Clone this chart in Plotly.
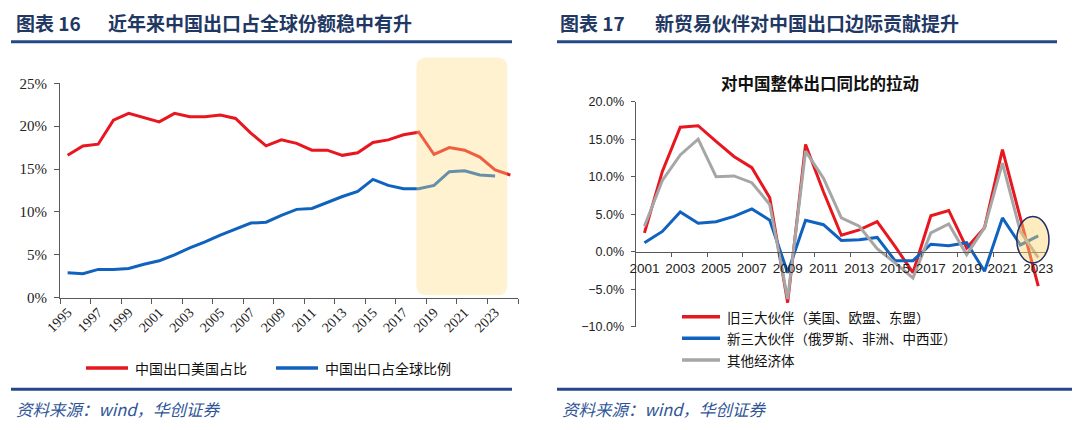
import plotly.graph_objects as go

# ---------------- data ----------------
years_left = list(range(1995, 2025))
us_share = [16.6, 17.7, 17.9, 20.7, 21.5, 21.0, 20.5, 21.5, 21.1, 21.1,
            21.3, 20.9, 19.2, 17.7, 18.4, 18.0, 17.2, 17.2, 16.6, 16.9,
            18.1, 18.4, 19.0, 19.3, 16.7, 17.5, 17.2, 16.4, 14.9, 14.3]
years_world = list(range(1995, 2024))
world_share = [2.9, 2.8, 3.3, 3.3, 3.4, 3.9, 4.3, 5.0, 5.8, 6.5,
               7.3, 8.0, 8.7, 8.8, 9.6, 10.3, 10.4, 11.1, 11.8, 12.4,
               13.8, 13.1, 12.7, 12.7, 13.1, 14.7, 14.8, 14.3, 14.2]
left_ticks = list(range(1995, 2024, 2))

years_right = list(range(2001, 2024))
old_partners = [2.5, 10.7, 16.6, 16.8, 14.7, 12.7, 11.2, 7.2, -6.8, 14.3,
                8.0, 2.2, 2.9, 4.0, 0.7, -2.8, 4.8, 5.5, 0.5, 3.2,
                13.6, 4.4, -4.6]
new_partners = [1.2, 2.7, 5.3, 3.8, 4.0, 4.7, 5.7, 4.2, -2.8, 4.2,
                3.6, 1.5, 1.6, 1.9, -1.2, -1.2, 1.0, 0.8, 1.2, -2.6,
                4.5, 0.9, 2.1]
others = [3.4, 9.5, 12.9, 15.0, 10.0, 10.1, 9.2, 6.3, -6.3, 13.4,
          9.8, 4.5, 3.4, 0.4, -1.5, -3.5, 2.5, 3.7, -0.4, 3.2,
          11.8, 2.7, -0.8]
right_ticks = list(range(2001, 2024, 2))

left_names = ["中国出口美国占比", "中国出口占全球比例"]
right_names = ["旧三大伙伴（美国、欧盟、东盟）", "新三大伙伴（俄罗斯、非洲、中西亚）", "其他经济体"]

# ---------------- style ----------------
# the page body has an 8px default margin; the figure is sized to fit the window
OFF = 8
W, H = 1080 - OFF, 430 - OFF
RED = "#E8161E"
BLUE = "#0F63BE"
GRAY = "#A6A6A6"
NAVY = "#1F3864"
RULE = "#24488A"
AXIS = "#595959"
CJK = "Noto Sans CJK SC"
SERIF = "Liberation Serif"
SANS = "Liberation Sans"


def px(p):
    return (p - OFF) / W


def py(p):
    return 1 - (p - OFF) / H


xdomL = [px(60), px(518)]
ydomL = [py(297.7), py(83.3)]
xrngL = [1994.5, 2024.5]
yrngL = [0, 25]

xdomR = [px(635.5), px(1047.2)]
ydomR = [py(326.7), py(101.7)]
xrngR = [2000.5, 2023.5]
yrngR = [-10, 20]


def to_paper(xv, yv, xd, yd, xr, yr):
    xp = xd[0] + (xv - xr[0]) / (xr[1] - xr[0]) * (xd[1] - xd[0])
    yp = yd[0] + (yv - yr[0]) / (yr[1] - yr[0]) * (yd[1] - yd[0])
    return xp, yp


fig = go.Figure()

# left chart
fig.add_trace(go.Scatter(x=years_left, y=us_share, mode="lines", name=left_names[0],
                         line=dict(color=RED, width=3), xaxis="x", yaxis="y", showlegend=False))
fig.add_trace(go.Scatter(x=years_world, y=world_share, mode="lines", name=left_names[1],
                         line=dict(color=BLUE, width=3), xaxis="x", yaxis="y", showlegend=False))

# right chart
fig.add_trace(go.Scatter(x=years_right, y=old_partners, mode="lines", name=right_names[0],
                         line=dict(color=RED, width=3), xaxis="x2", yaxis="y2", showlegend=False))
fig.add_trace(go.Scatter(x=years_right, y=new_partners, mode="lines", name=right_names[1],
                         line=dict(color=BLUE, width=3), xaxis="x2", yaxis="y2", showlegend=False))
fig.add_trace(go.Scatter(x=years_right, y=others, mode="lines", name=right_names[2],
                         line=dict(color=GRAY, width=3), xaxis="x2", yaxis="y2", showlegend=False))

shapes = []
annotations = []

# highlight rounded rect (left)
hx0, hy0 = to_paper(2017.85, 0.3, xdomL, ydomL, xrngL, yrngL)
hx1, hy1 = to_paper(2023.8, 28.0, xdomL, ydomL, xrngL, yrngL)
rx, ry = 10 / W, 10 / H
path = (f"M{hx0+rx},{hy0} L{hx1-rx},{hy0} Q{hx1},{hy0} {hx1},{hy0+ry} "
        f"L{hx1},{hy1-ry} Q{hx1},{hy1} {hx1-rx},{hy1} L{hx0+rx},{hy1} "
        f"Q{hx0},{hy1} {hx0},{hy1-ry} L{hx0},{hy0+ry} Q{hx0},{hy0} {hx0+rx},{hy0} Z")
shapes.append(dict(type="path", path=path, xref="paper", yref="paper",
                   fillcolor="rgba(255,220,128,0.37)", line=dict(width=0), layer="above"))

# ellipse (right)
ex0, ey0 = to_paper(2021.8, -1.5, xdomR, ydomR, xrngR, yrngR)
ex1, ey1 = to_paper(2023.6, 4.7, xdomR, ydomR, xrngR, yrngR)
shapes.append(dict(type="circle", xref="paper", yref="paper", x0=ex0, x1=ex1, y0=ey0, y1=ey1,
                   fillcolor="rgba(252,212,110,0.45)", line=dict(color="#1F2D6B", width=1.5),
                   layer="above"))

# rules
for (x0, x1, yy) in [(11, 512, 41.7), (11, 512, 389.3), (557, 1057, 41.7), (557, 1075, 389.3)]:
    shapes.append(dict(type="line", xref="paper", yref="paper", x0=px(x0), x1=px(x1),
                       y0=py(yy), y1=py(yy), line=dict(color=RULE, width=3)))

# titles
for (x, txt) in [(14, "图表 16"), (106, "近年来中国出口占全球份额稳中有升"),
                 (558, "图表 17"), (653, "新贸易伙伴对中国出口边际贡献提升")]:
    annotations.append(dict(x=px(x), y=py(22), xref="paper", yref="paper", text=txt,
                            showarrow=False, xanchor="left", yanchor="middle",
                            font=dict(family=CJK, size=19, color=NAVY, weight="bold")))

# sources
for x in [14, 560]:
    annotations.append(dict(x=px(x), y=py(409), xref="paper", yref="paper",
                            text="资料来源：wind，华创证券", showarrow=False,
                            xanchor="left", yanchor="middle",
                            font=dict(family=CJK, size=16.5, color="#2F5597", style="italic")))

# right chart title
annotations.append(dict(x=px(820), y=py(82.7), xref="paper", yref="paper",
                        text="对中国整体出口同比的拉动", showarrow=False,
                        xanchor="center", yanchor="middle",
                        font=dict(family=CJK, size=16.5, color="#111111", weight="bold")))

# manual legends
left_leg = [(86, 128, 133, RED, left_names[0]), (276, 318, 323, BLUE, left_names[1])]
for (lx0, lx1, tx, col, name) in left_leg:
    shapes.append(dict(type="line", xref="paper", yref="paper", x0=px(lx0), x1=px(lx1),
                       y0=py(368), y1=py(368), line=dict(color=col, width=3.5)))
    annotations.append(dict(x=px(tx), y=py(368), xref="paper", yref="paper", text=name,
                            showarrow=False, xanchor="left", yanchor="middle",
                            font=dict(family=CJK, size=14, color="#111111")))

right_leg = [(316.7, RED, right_names[0]), (338.3, BLUE, right_names[1]), (360, GRAY, right_names[2])]
for (yy, col, name) in right_leg:
    shapes.append(dict(type="line", xref="paper", yref="paper", x0=px(682), x1=px(720),
                       y0=py(yy), y1=py(yy), line=dict(color=col, width=3.5)))
    annotations.append(dict(x=px(725), y=py(yy), xref="paper", yref="paper", text=name,
                            showarrow=False, xanchor="left", yanchor="middle",
                            font=dict(family=CJK, size=13.5, color="#111111")))

zero_pos = ydomR[0] + (0 - yrngR[0]) / (yrngR[1] - yrngR[0]) * (ydomR[1] - ydomR[0])

fig.update_layout(
    width=W, height=H,
    margin=dict(l=0, r=0, t=0, b=0, pad=0, autoexpand=False),
    paper_bgcolor="white", plot_bgcolor="rgba(0,0,0,0)",
    showlegend=False,
    shapes=shapes, annotations=annotations,
    xaxis=dict(domain=xdomL, range=xrngL, anchor="y", tickmode="array", automargin=False,
               tickvals=left_ticks, ticktext=[str(v) for v in left_ticks],
               tickangle=-45, ticks="", showline=True, linecolor=AXIS, linewidth=1,
               showgrid=False, zeroline=False,
               minor=dict(tickmode="linear", tick0=1994.5, dtick=2, ticks="outside",
                          ticklen=5, tickcolor=AXIS, tickwidth=1, showgrid=False),
               tickfont=dict(family=SERIF, size=14, color="#222222")),
    yaxis=dict(domain=ydomL, range=yrngL, anchor="x", tickmode="array", automargin=False,
               tickvals=[0, 5, 10, 15, 20, 25], ticktext=[f"{v}%" for v in [0, 5, 10, 15, 20, 25]],
               ticks="outside", ticklen=5, tickcolor=AXIS, showline=True, linecolor=AXIS,
               linewidth=1, showgrid=False, zeroline=False, ticklabelstandoff=4,
               tickfont=dict(family=SERIF, size=15, color="#222222")),
    xaxis2=dict(domain=xdomR, range=xrngR, anchor="free", position=zero_pos, automargin=False,
                tickmode="array", tickvals=right_ticks, ticktext=[str(v) for v in right_ticks],
                ticks="", showline=True, linecolor=AXIS, linewidth=1, showgrid=False,
                zeroline=False, tickangle=0, ticklabelstandoff=4,
                minor=dict(tickmode="linear", tick0=2000.5, dtick=2, ticks="outside",
                           ticklen=4, tickcolor=AXIS, tickwidth=1, showgrid=False),
                tickfont=dict(family=SANS, size=13.5, color="#222222")),
    yaxis2=dict(domain=ydomR, range=yrngR, anchor="x2", tickmode="linear", tick0=-10, dtick=5,
                automargin=False,
                tickformat=".1f", ticksuffix="%", ticks="outside", ticklen=4, tickcolor=AXIS,
                showline=True, linecolor=AXIS, linewidth=1, showgrid=False, zeroline=False,
                ticklabelstandoff=4,
                tickfont=dict(family=SANS, size=12.5, color="#222222")),
)

fig.write_html("out.html")
